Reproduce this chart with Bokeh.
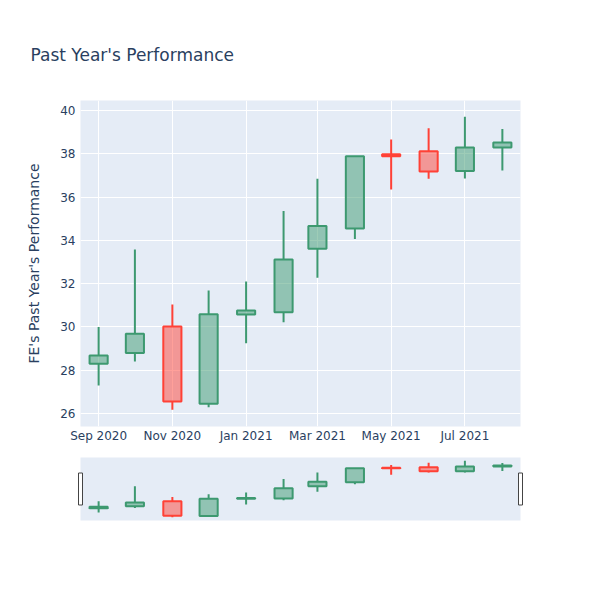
import pandas as pd
from bokeh.plotting import figure
from bokeh.layouts import column
from bokeh.models import (ColumnDataSource, FixedTicker, DatetimeTickFormatter,
                          Range1d, Title)
from bokeh.embed import file_html
from bokeh.resources import INLINE

# ---- data (monthly OHLC) ----
dates = ["2020-09-01", "2020-10-01", "2020-11-01", "2020-12-01", "2021-01-01", "2021-02-01",
         "2021-03-01", "2021-04-01", "2021-05-01", "2021-06-01", "2021-07-01", "2021-08-01"]
opens = [28.30, 28.79, 30.02, 26.45, 30.57, 30.68, 33.61, 34.55, 37.98, 38.12, 37.20, 38.29]
highs = [30.00, 33.58, 31.04, 31.68, 32.10, 35.35, 36.85, 37.90, 38.66, 39.18, 39.71, 39.14]
lows = [27.29, 28.40, 26.17, 26.29, 29.25, 30.22, 32.27, 34.06, 36.35, 36.85, 36.86, 37.23]
closes = [28.68, 29.68, 26.55, 30.59, 30.76, 33.12, 34.66, 37.89, 37.88, 37.18, 38.29, 38.52]

y_ticks = [26, 28, 30, 32, 34, 36, 38, 40]
x_tick_dates = ["2020-09-01", "2020-11-01", "2021-01-01", "2021-03-01", "2021-05-01", "2021-07-01"]

title_text = "Past Year's Performance"
y_label = "FE's Past Year's Performance"

INC = "#3D9970"
DEC = "#FF4136"
BG = "#E5ECF6"
TXT = "#2a3f5f"
FONT = "DejaVu Sans"

DAY = 86400000.0
dt = pd.to_datetime(dates)
df = pd.DataFrame({"date": dt, "open": opens, "high": highs, "low": lows, "close": closes})
df["top"] = df[["open", "close"]].max(axis=1)
df["bot"] = df[["open", "close"]].min(axis=1)
df["color"] = [INC if c >= o else DEC for o, c in zip(opens, closes)]
src = ColumnDataSource(df)

x_start = pd.Timestamp("2020-08-17")
x_end = pd.Timestamp("2021-08-16")
xr = Range1d(x_start, x_end)
Y0, Y1 = 25.4, 40.46

W = 592
p = figure(width=W, height=457, x_axis_type="datetime", x_range=xr, y_range=Range1d(Y0, Y1),
           output_backend="svg", toolbar_location=None,
           min_border_left=80, min_border_right=72, min_border_top=100, min_border_bottom=31)
p.background_fill_color = BG
p.border_fill_color = "white"
p.outline_line_color = None

p.title = Title(text=title_text, align="left", offset=-50, standoff=67, vertical_align="top",
                text_font=FONT, text_font_size="17px", text_color=TXT, text_font_style="normal")

p.xgrid.grid_line_color = "white"
p.ygrid.grid_line_color = "white"
p.xgrid.grid_line_width = 1
p.ygrid.grid_line_width = 1

p.yaxis.ticker = FixedTicker(ticks=y_ticks)
p.xaxis.ticker = FixedTicker(ticks=[pd.Timestamp(d).value / 1e6 for d in x_tick_dates])
p.xaxis.formatter = DatetimeTickFormatter(months="%b %Y", days="%b %Y", years="%b %Y")
for ax in (p.xaxis[0], p.yaxis[0]):
    ax.axis_line_color = None
    ax.major_tick_line_color = None
    ax.minor_tick_line_color = None
    ax.major_tick_out = 0
    ax.major_tick_in = 0
    ax.minor_tick_out = 0
    ax.minor_tick_in = 0
    ax.major_label_text_font = FONT
    ax.major_label_text_font_size = "12px"
    ax.major_label_text_color = TXT
p.xaxis.major_label_standoff = 2
p.yaxis.major_label_standoff = 5
p.yaxis.axis_label = y_label
p.yaxis.axis_label_text_font = FONT
p.yaxis.axis_label_text_font_size = "14px"
p.yaxis.axis_label_text_font_style = "normal"
p.yaxis.axis_label_text_color = TXT
p.yaxis.axis_label_standoff = 15

W_BAR = 15 * DAY


def draw(fig, lw):
    fig.segment(x0="date", y0="high", x1="date", y1="top", source=src, line_color="color", line_width=lw)
    fig.segment(x0="date", y0="bot", x1="date", y1="low", source=src, line_color="color", line_width=lw)
    fig.vbar(x="date", top="top", bottom="bot", width=W_BAR, source=src,
             fill_color="color", fill_alpha=0.5, line_color="color", line_width=lw)


draw(p, 2)

# ---- range slider ----
s = figure(width=W, height=127, x_axis_type="datetime", x_range=xr,
           y_range=Range1d(Y0, Y1),
           output_backend="svg", toolbar_location=None,
           min_border_left=80, min_border_right=72, min_border_top=0, min_border_bottom=64)
s.background_fill_color = BG
s.border_fill_color = "white"
s.outline_line_color = None
s.xaxis.visible = False
s.yaxis.visible = False
s.xgrid.visible = False
s.ygrid.visible = False
draw(s, 2)
ymid = (Y0 + Y1) / 2
s.rect(x=[x_start, x_end], y=[ymid, ymid], width=4, height=32, width_units="screen",
       height_units="screen", fill_color="white", line_color="#444444", line_width=1,
       level="overlay")

layout = column(p, s, spacing=0)
open("out.html", "w").write(file_html(layout, INLINE))
